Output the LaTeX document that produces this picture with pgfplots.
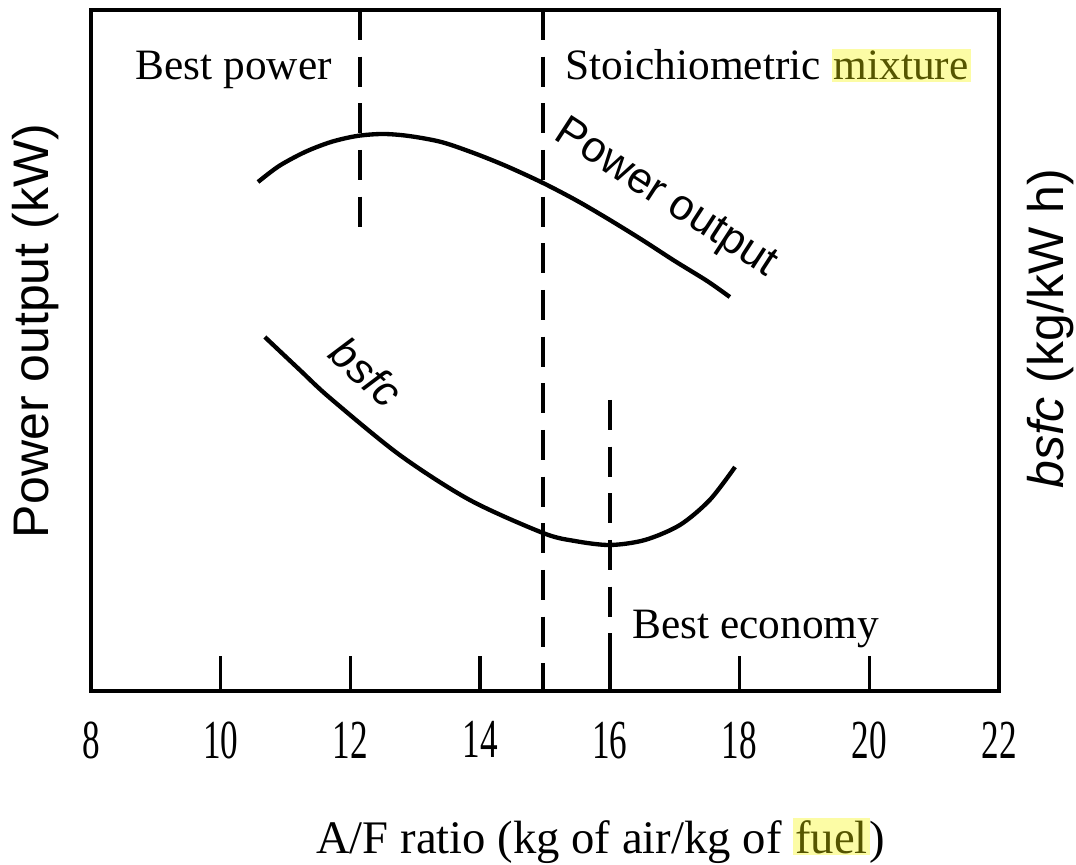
\documentclass[border=0pt]{standalone}
\usepackage{pgfplots}
\pgfplotsset{compat=1.18}
\usepackage{fontspec}
\setmainfont{Liberation Serif}
\setsansfont{Liberation Sans}
\usepackage{graphicx}
\definecolor{hlbg}{RGB}{252,252,165}
\definecolor{hltext}{RGB}{85,85,0}
\newcommand\cx[1]{\scalebox{0.64}[1]{#1}}
\setlength{\fboxsep}{0.6pt}
\begin{document}
\begin{tikzpicture}
\begin{axis}[
  name=ax,
  scale only axis,
  width=272.4pt, height=204.3pt,
  xmin=8, xmax=22, ymin=0, ymax=681,
  axis line style={line width=1.1pt},
  xtick={8,10,12,14,16,18,20,22},
  xticklabels={\cx{8},\cx{10},\cx{12},\cx{14},\cx{16},\cx{18},\cx{20},\cx{22}},
  ytick=\empty,
  tick pos=left,
  tick align=inside,
  major tick length=10.5pt,
  tick style={line width=1pt, black},
  xticklabel style={font=\fontsize{16.5}{16.5}\selectfont, inner sep=0pt, yshift=-9pt},
  clip=false,
]
% Power output curve
\addplot[line width=1.3pt, smooth, black] coordinates {
 (10.575,509) (10.9,525) (11.3,539) (11.7,549) (12.1,555) (12.5,557) (12.9,555)
 (13.4,549) (13.9,538) (14.4,525) (14.97,508) (15.5,490) (16.0,471) (16.5,451)
 (17.0,430) (17.5,410) (17.85,394)};
% bsfc curve
\addplot[line width=1.3pt, smooth, black] coordinates {
 (10.68,354) (11.22,321) (11.685,293) (12.76,236) (13.84,191) (14.97,158)
 (15.46,150) (16.00,146) (16.54,151) (17.08,166) (17.54,191) (17.93,224)};
% dashed markers
\addplot[line width=1pt, black, dash pattern=on 9pt off 5pt] coordinates {(12.15,681) (12.15,453)};
\addplot[line width=1pt, black, dash pattern=on 9pt off 5pt] coordinates {(14.97,681) (14.97,0)};
\addplot[line width=1pt, black, dash pattern=on 9pt off 5pt] coordinates {(16.0,291) (16.0,0)};
% texts
\node[anchor=base west, inner sep=0pt, font=\fontsize{13}{13}\selectfont] at (axis cs:8.68,611) {Best power};
\node[anchor=base west, inner sep=0pt, font=\fontsize{13}{13}\selectfont] at (axis cs:15.31,611) {Stoichiometric \colorbox{hlbg}{\textcolor{hltext}{mixture}}};
\node[anchor=base west, inner sep=0pt, font=\fontsize{13}{13}\selectfont] at (axis cs:16.34,53) {Best economy};
\node[rotate=-33, inner sep=0pt, font=\sffamily\fontsize{13}{13}\selectfont] at (axis cs:16.86,492) {Power output};
\node[rotate=-42, inner sep=0pt, font=\sffamily\itshape\fontsize{13}{13}\selectfont] at (axis cs:12.24,319) {bsfc};
\node[rotate=90, inner sep=0pt, font=\sffamily\fontsize{15}{15}\selectfont] at (axis cs:7.14,360) {Power output (kW)};
\node[rotate=90, inner sep=0pt, font=\sffamily\fontsize{15}{15}\selectfont] at (axis cs:22.80,362) {\textit{bsfc} (kg/kW h)};
\node[anchor=base, inner sep=0pt, font=\fontsize{14}{14}\selectfont] at (axis cs:15.86,-162) {A/F ratio (kg of air/kg of \colorbox{hlbg}{\textcolor{hltext}{fuel}})};
\end{axis}
\pgfresetboundingbox
\path (ax.south west) ++(-27.3pt,-51.9pt) rectangle ++(322.8pt,259.2pt);
\end{tikzpicture}
\end{document}
